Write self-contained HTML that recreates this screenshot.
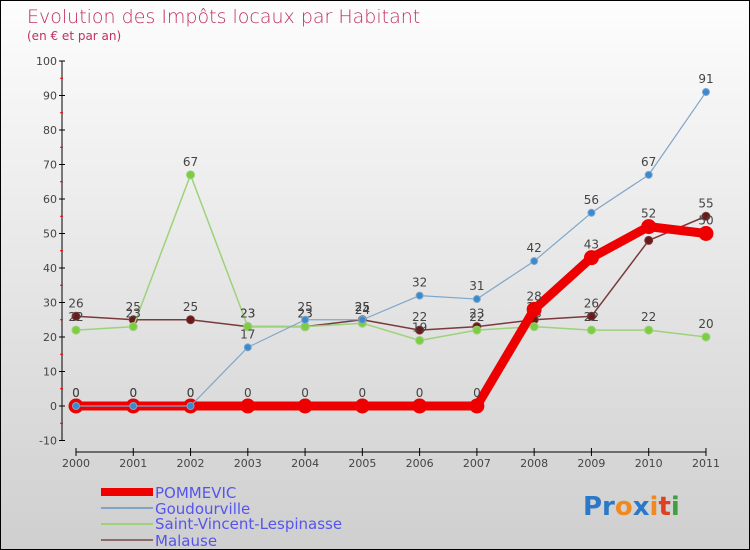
<!DOCTYPE html>
<html><head><meta charset="utf-8"><style>
body{margin:0}
#c{position:relative;width:748px;height:548px;border:1px solid #000;background:linear-gradient(#fdfdfd,#cfcfcf);overflow:hidden;font-family:"DejaVu Sans","Liberation Sans",sans-serif}
</style></head><body>
<div id="c">
<svg width="748" height="548" style="position:absolute;left:0;top:0">
<text x="26" y="22" font-size="19" fill="#c0305e" font-family="DejaVu Sans,sans-serif" font-weight="200">Evolution des Impôts locaux par Habitant</text>
<text x="26" y="39" font-size="12" fill="#c0305e">(en € et par an)</text>
<g id="axes"></g><g id="series"></g>
<g font-size="15" fill="#5555ee">
<rect x="100" y="487" width="52" height="8" fill="#e00"/>
<text x="154" y="497">POMMEVIC</text>
<rect x="100" y="506" width="52" height="2" fill="#7fa6c8"/>
<text x="154" y="513">Goudourville</text>
<rect x="100" y="522" width="52" height="2" fill="#9ed27a"/>
<text x="154" y="528">Saint-Vincent-Lespinasse</text>
<rect x="100" y="538" width="52" height="2" fill="#8e6a6a"/>
<text x="154" y="545">Malause</text>
</g>
<g font-size="26" font-weight="bold">
<text x="582" y="514"><tspan fill="#2a78c8">Pr</tspan><tspan fill="#f08a20">o</tspan><tspan fill="#2a78c8">x</tspan><tspan fill="#f08a20">i</tspan><tspan fill="#e04020">t</tspan><tspan fill="#40a040">i</tspan></text>
</g>
</svg>
</div>
<script>
const years=[2000,2001,2002,2003,2004,2005,2006,2007,2008,2009,2010,2011];
const yTicks=[-10,0,10,20,30,40,50,60,70,80,90,100];
const pommevic=[0,0,0,0,0,0,0,0,28,43,52,50];
const goudourville=[0,0,0,17,25,25,32,31,42,56,67,91];
const saintVincent=[22,23,67,23,23,24,19,22,23,22,22,20];
const malause=[26,25,25,23,23,25,22,23,25,26,48,55];
const NS="http://www.w3.org/2000/svg";
function X(i){return 75+i*57.27;}
function Y(v){return 405-v*3.45;}
function mk(t,a,p){const e=document.createElementNS(NS,t);for(const k in a)e.setAttribute(k,a[k]);p.appendChild(e);return e;}
const ax=document.getElementById('axes');
const yl=mk('line',{x1:61,y1:Y(100),x2:61,y2:Y(-10),stroke:'#000'},ax);


yTicks.forEach(v=>{
  mk('line',{x1:58,y1:Y(v),x2:64,y2:Y(v),stroke:'#000'},ax);
  if(v<100)mk('line',{x1:59,y1:Y(v+5),x2:62,y2:Y(v+5),stroke:'#e00'},ax);
  const t=mk('text',{x:56,y:Y(v)+4,'text-anchor':'end','font-size':11,fill:'#444'},ax);
  t.textContent=v;
  
  
});
const xl=mk('line',{x1:X(0),y1:451,x2:X(11),y2:451,stroke:'#000'},ax);


years.forEach((y,i)=>{
  mk('line',{x1:X(i),y1:447,x2:X(i),y2:455,stroke:'#000'},ax);
  const t=mk('text',{x:X(i),y:466,'text-anchor':'middle','font-size':11,fill:'#444'},ax);
  t.textContent=y;
  
  
});
const sg=document.getElementById('series');
function draw(data,name,color,dot,w,r){
  const g=mk('g',{},sg);
  
  
  mk('polyline',{points:data.map((v,i)=>X(i)+','+Y(v)).join(' '),fill:'none',stroke:color,'stroke-width':w,'stroke-linejoin':'round'},g);
  data.forEach((v,i)=>{
    const c=mk('circle',{cx:X(i),cy:Y(v),r:r,fill:dot,stroke:color,'stroke-width':1},g);
    
    
    const t=mk('text',{x:X(i),y:Y(v)-9,'text-anchor':'middle','font-size':12,fill:'#444'},g);
    t.textContent=v;
    
    
  });
}
draw(malause,'malause','#7a3a3a','#6a1a1a',1.5,4);
draw(saintVincent,'saint-vincent','#9ed27a','#7ccc44',1.5,4);
draw(pommevic,'pommevic','#e00','#e00',9,7);
draw(goudourville,'goudourville','#7fa6c8','#3a8ad0',1.2,3.5);
</script>
</body></html>
